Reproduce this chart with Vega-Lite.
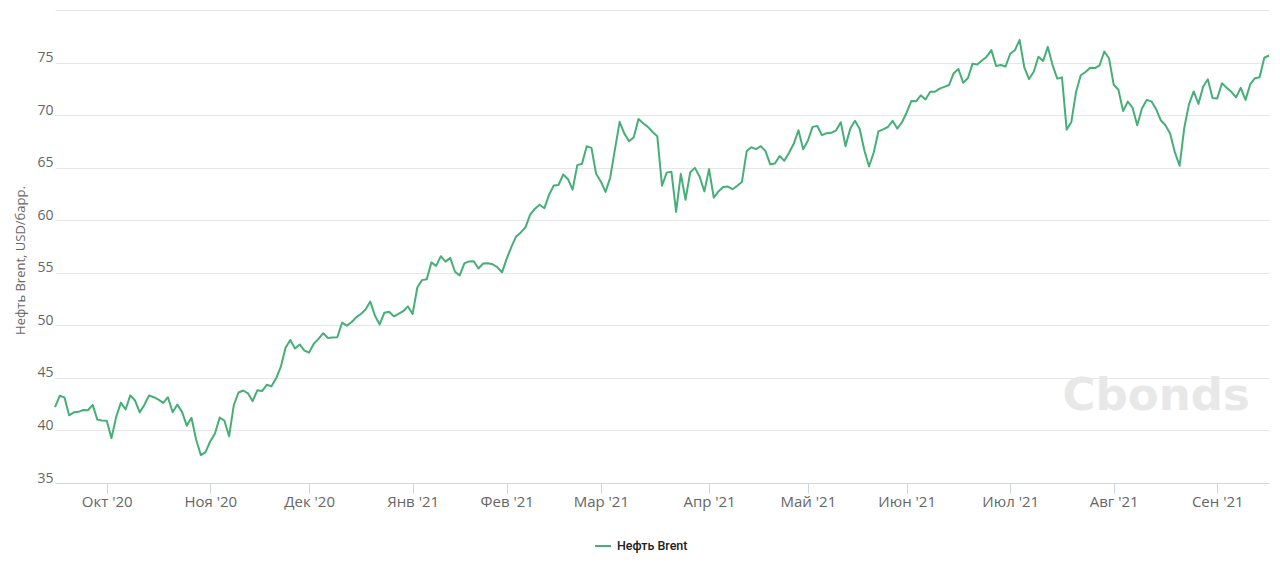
{
"$schema": "https://vega.github.io/schema/vega-lite/v6.json",
"width": 1214, "height": 473,
"autosize": {"type": "none"},
"padding": {"left": 55, "top": 10, "right": 11, "bottom": 95},
"background": "white",
"config": {"view": {"stroke": null}, "font": "Open Sans"},
"data": {"values": [
{"date":"2020-09-16","price":42.22},{"date":"2020-09-17","price":43.30},{"date":"2020-09-18","price":43.15},{"date":"2020-09-21","price":41.44},{"date":"2020-09-22","price":41.72},{"date":"2020-09-23","price":41.77},{"date":"2020-09-24","price":41.94},{"date":"2020-09-25","price":41.92},{"date":"2020-09-28","price":42.43},{"date":"2020-09-29","price":41.03},{"date":"2020-09-30","price":40.95},
{"date":"2020-10-01","price":40.93},{"date":"2020-10-02","price":39.27},{"date":"2020-10-05","price":41.29},{"date":"2020-10-06","price":42.65},{"date":"2020-10-07","price":41.99},{"date":"2020-10-08","price":43.34},{"date":"2020-10-09","price":42.85},{"date":"2020-10-12","price":41.72},{"date":"2020-10-13","price":42.45},{"date":"2020-10-14","price":43.32},{"date":"2020-10-15","price":43.16},{"date":"2020-10-16","price":42.93},{"date":"2020-10-19","price":42.62},{"date":"2020-10-20","price":43.16},{"date":"2020-10-21","price":41.73},{"date":"2020-10-22","price":42.46},{"date":"2020-10-23","price":41.77},{"date":"2020-10-26","price":40.46},{"date":"2020-10-27","price":41.20},{"date":"2020-10-28","price":39.12},{"date":"2020-10-29","price":37.65},{"date":"2020-10-30","price":37.94},
{"date":"2020-11-02","price":38.97},{"date":"2020-11-03","price":39.71},{"date":"2020-11-04","price":41.23},{"date":"2020-11-05","price":40.93},{"date":"2020-11-06","price":39.45},{"date":"2020-11-09","price":42.40},{"date":"2020-11-10","price":43.61},{"date":"2020-11-11","price":43.80},{"date":"2020-11-12","price":43.53},{"date":"2020-11-13","price":42.78},{"date":"2020-11-16","price":43.82},{"date":"2020-11-17","price":43.75},{"date":"2020-11-18","price":44.34},{"date":"2020-11-19","price":44.20},{"date":"2020-11-20","price":44.96},{"date":"2020-11-23","price":46.06},{"date":"2020-11-24","price":47.86},{"date":"2020-11-25","price":48.61},{"date":"2020-11-26","price":47.80},{"date":"2020-11-27","price":48.18},{"date":"2020-11-30","price":47.59},
{"date":"2020-12-01","price":47.42},{"date":"2020-12-02","price":48.25},{"date":"2020-12-03","price":48.71},{"date":"2020-12-04","price":49.25},{"date":"2020-12-07","price":48.79},{"date":"2020-12-08","price":48.84},{"date":"2020-12-09","price":48.86},{"date":"2020-12-10","price":50.25},{"date":"2020-12-11","price":49.97},{"date":"2020-12-14","price":50.29},{"date":"2020-12-15","price":50.76},{"date":"2020-12-16","price":51.08},{"date":"2020-12-17","price":51.50},{"date":"2020-12-18","price":52.26},{"date":"2020-12-21","price":50.91},{"date":"2020-12-22","price":50.08},{"date":"2020-12-23","price":51.20},{"date":"2020-12-24","price":51.29},{"date":"2020-12-28","price":50.86},{"date":"2020-12-29","price":51.09},{"date":"2020-12-30","price":51.34},{"date":"2020-12-31","price":51.80},
{"date":"2021-01-04","price":51.09},{"date":"2021-01-05","price":53.60},{"date":"2021-01-06","price":54.30},{"date":"2021-01-07","price":54.38},{"date":"2021-01-08","price":55.99},{"date":"2021-01-11","price":55.66},{"date":"2021-01-12","price":56.58},{"date":"2021-01-13","price":56.06},{"date":"2021-01-14","price":56.42},{"date":"2021-01-15","price":55.10},{"date":"2021-01-18","price":54.75},{"date":"2021-01-19","price":55.90},{"date":"2021-01-20","price":56.08},{"date":"2021-01-21","price":56.10},{"date":"2021-01-22","price":55.41},{"date":"2021-01-25","price":55.88},{"date":"2021-01-26","price":55.91},{"date":"2021-01-27","price":55.81},{"date":"2021-01-28","price":55.53},{"date":"2021-01-29","price":55.04},
{"date":"2021-02-01","price":56.35},{"date":"2021-02-02","price":57.46},{"date":"2021-02-03","price":58.46},{"date":"2021-02-04","price":58.84},{"date":"2021-02-05","price":59.34},{"date":"2021-02-08","price":60.56},{"date":"2021-02-09","price":61.09},{"date":"2021-02-10","price":61.47},{"date":"2021-02-11","price":61.14},{"date":"2021-02-12","price":62.43},{"date":"2021-02-15","price":63.30},{"date":"2021-02-16","price":63.35},{"date":"2021-02-17","price":64.34},{"date":"2021-02-18","price":63.93},{"date":"2021-02-19","price":62.91},{"date":"2021-02-22","price":65.24},{"date":"2021-02-23","price":65.37},{"date":"2021-02-24","price":67.04},{"date":"2021-02-25","price":66.88},{"date":"2021-02-26","price":64.42},
{"date":"2021-03-01","price":63.69},{"date":"2021-03-02","price":62.70},{"date":"2021-03-03","price":64.07},{"date":"2021-03-04","price":66.74},{"date":"2021-03-05","price":69.36},{"date":"2021-03-08","price":68.24},{"date":"2021-03-09","price":67.52},{"date":"2021-03-10","price":67.90},{"date":"2021-03-11","price":69.63},{"date":"2021-03-12","price":69.22},{"date":"2021-03-15","price":68.88},{"date":"2021-03-16","price":68.39},{"date":"2021-03-17","price":68.00},{"date":"2021-03-18","price":63.28},{"date":"2021-03-19","price":64.53},{"date":"2021-03-22","price":64.62},{"date":"2021-03-23","price":60.79},{"date":"2021-03-24","price":64.41},{"date":"2021-03-25","price":61.95},{"date":"2021-03-26","price":64.57},{"date":"2021-03-29","price":64.98},{"date":"2021-03-30","price":64.14},{"date":"2021-03-31","price":62.74},
{"date":"2021-04-01","price":64.86},{"date":"2021-04-05","price":62.15},{"date":"2021-04-06","price":62.74},{"date":"2021-04-07","price":63.16},{"date":"2021-04-08","price":63.20},{"date":"2021-04-09","price":62.95},{"date":"2021-04-12","price":63.28},{"date":"2021-04-13","price":63.67},{"date":"2021-04-14","price":66.58},{"date":"2021-04-15","price":66.94},{"date":"2021-04-16","price":66.77},{"date":"2021-04-19","price":67.05},{"date":"2021-04-20","price":66.57},{"date":"2021-04-21","price":65.32},{"date":"2021-04-22","price":65.40},{"date":"2021-04-23","price":66.11},{"date":"2021-04-26","price":65.65},{"date":"2021-04-27","price":66.42},{"date":"2021-04-28","price":67.27},{"date":"2021-04-29","price":68.56},{"date":"2021-04-30","price":66.76},
{"date":"2021-05-03","price":67.56},{"date":"2021-05-04","price":68.88},{"date":"2021-05-05","price":68.96},{"date":"2021-05-06","price":68.09},{"date":"2021-05-07","price":68.28},{"date":"2021-05-10","price":68.32},{"date":"2021-05-11","price":68.55},{"date":"2021-05-12","price":69.32},{"date":"2021-05-13","price":67.05},{"date":"2021-05-14","price":68.71},{"date":"2021-05-17","price":69.46},{"date":"2021-05-18","price":68.71},{"date":"2021-05-19","price":66.66},{"date":"2021-05-20","price":65.11},{"date":"2021-05-21","price":66.44},{"date":"2021-05-24","price":68.46},{"date":"2021-05-25","price":68.65},{"date":"2021-05-26","price":68.87},{"date":"2021-05-27","price":69.46},{"date":"2021-05-28","price":68.72},{"date":"2021-05-31","price":69.32},
{"date":"2021-06-01","price":70.25},{"date":"2021-06-02","price":71.35},{"date":"2021-06-03","price":71.31},{"date":"2021-06-04","price":71.89},{"date":"2021-06-07","price":71.49},{"date":"2021-06-08","price":72.22},{"date":"2021-06-09","price":72.22},{"date":"2021-06-10","price":72.52},{"date":"2021-06-11","price":72.69},{"date":"2021-06-14","price":72.86},{"date":"2021-06-15","price":73.99},{"date":"2021-06-16","price":74.39},{"date":"2021-06-17","price":73.08},{"date":"2021-06-18","price":73.51},{"date":"2021-06-21","price":74.90},{"date":"2021-06-22","price":74.81},{"date":"2021-06-23","price":75.19},{"date":"2021-06-24","price":75.56},{"date":"2021-06-25","price":76.18},{"date":"2021-06-28","price":74.68},{"date":"2021-06-29","price":74.76},{"date":"2021-06-30","price":74.62},
{"date":"2021-07-01","price":75.84},{"date":"2021-07-02","price":76.17},{"date":"2021-07-05","price":77.16},{"date":"2021-07-06","price":74.53},{"date":"2021-07-07","price":73.43},{"date":"2021-07-08","price":74.12},{"date":"2021-07-09","price":75.55},{"date":"2021-07-12","price":75.16},{"date":"2021-07-13","price":76.49},{"date":"2021-07-14","price":74.76},{"date":"2021-07-15","price":73.47},{"date":"2021-07-16","price":73.59},{"date":"2021-07-19","price":68.62},{"date":"2021-07-20","price":69.35},{"date":"2021-07-21","price":72.23},{"date":"2021-07-22","price":73.79},{"date":"2021-07-23","price":74.10},{"date":"2021-07-26","price":74.50},{"date":"2021-07-27","price":74.48},{"date":"2021-07-28","price":74.74},{"date":"2021-07-29","price":76.05},{"date":"2021-07-30","price":75.41},
{"date":"2021-08-02","price":72.89},{"date":"2021-08-03","price":72.41},{"date":"2021-08-04","price":70.38},{"date":"2021-08-05","price":71.29},{"date":"2021-08-06","price":70.70},{"date":"2021-08-09","price":69.04},{"date":"2021-08-10","price":70.63},{"date":"2021-08-11","price":71.44},{"date":"2021-08-12","price":71.31},{"date":"2021-08-13","price":70.59},{"date":"2021-08-16","price":69.51},{"date":"2021-08-17","price":69.03},{"date":"2021-08-18","price":68.23},{"date":"2021-08-19","price":66.45},{"date":"2021-08-20","price":65.18},{"date":"2021-08-23","price":68.80},{"date":"2021-08-24","price":71.05},{"date":"2021-08-25","price":72.25},{"date":"2021-08-26","price":71.07},{"date":"2021-08-27","price":72.70},{"date":"2021-08-30","price":73.41},{"date":"2021-08-31","price":71.63},
{"date":"2021-09-01","price":71.59},{"date":"2021-09-02","price":73.03},{"date":"2021-09-03","price":72.61},{"date":"2021-09-06","price":72.22},{"date":"2021-09-07","price":71.69},{"date":"2021-09-08","price":72.60},{"date":"2021-09-09","price":71.45},{"date":"2021-09-10","price":72.92},{"date":"2021-09-13","price":73.51},{"date":"2021-09-14","price":73.60},{"date":"2021-09-15","price":75.46},{"date":"2021-09-16","price":75.67}
]},
"encoding": {
  "x": {"field": "date", "type": "ordinal", "scale": {"type": "point", "padding": 0},
    "axis": {"title": null,
      "values": ["2020-10-01","2020-11-02","2020-12-01","2021-01-04","2021-02-01","2021-03-01","2021-04-01","2021-05-03","2021-06-01","2021-07-01","2021-08-02","2021-09-01"],
      "labelExpr": "['Янв','Фев','Мар','Апр','Май','Июн','Июл','Авг','Сен','Окт','Ноя','Дек'][toNumber(substring(datum.value,5,7))-1] + \" '\" + substring(datum.value,2,4)",
      "labelAngle": 0, "labelFont": "Open Sans", "labelFontSize": 15, "labelColor": "#666666", "labelPadding": 1,
      "tickColor": "#ccd6eb", "tickSize": 10, "domainColor": "#ccd6eb", "grid": false, "labelOverlap": false}},
  "y": {"field": "price", "type": "quantitative", "scale": {"domain": [35, 80], "nice": false, "zero": false},
    "axis": {"values": [35,40,45,50,55,60,65,70,75,80], "labelExpr": "datum.value == 80 ? '' : datum.label",
      "title": "Нефть Brent, USD/барр.", "gridColor": "#e6e6e6", "domain": false, "ticks": false,
      "labelFont": "Open Sans", "labelFontSize": 14, "labelColor": "#666666", "labelPadding": 2, "labelBaseline": "alphabetic", "labelOffset": -1,
      "titleFont": "Open Sans", "titleFontSize": 13, "titleColor": "#666666", "titleFontWeight": "normal",
      "titleX": -35, "titleY": 250, "titleAngle": 270, "titleBaseline": "middle", "titleAlign": "center"}}
},
"layer": [
  {"transform": [{"filter": "datum.date == '2021-08-13'"}],
   "mark": {"type": "text", "font": "DejaVu Sans", "fontWeight": "bold", "fontSize": 45, "color": "#e8e8e8", "align": "center", "baseline": "alphabetic"},
   "encoding": {"y": {"datum": 41.95}, "text": {"value": "Cbonds"}}},
  {"mark": {"type": "line", "strokeWidth": 2, "strokeJoin": "round"},
   "encoding": {"color": {"datum": "Нефть Brent", "scale": {"range": ["#46af77"]},
     "legend": {"orient": "none", "legendX": 539, "legendY": 527, "title": null, "symbolType": "stroke", "symbolSize": 256, "symbolStrokeWidth": 2,
       "labelFont": "Roboto", "labelFontSize": 12.5, "labelFontWeight": 500, "labelColor": "#222222", "labelOffset": 5}}}}
]
}
